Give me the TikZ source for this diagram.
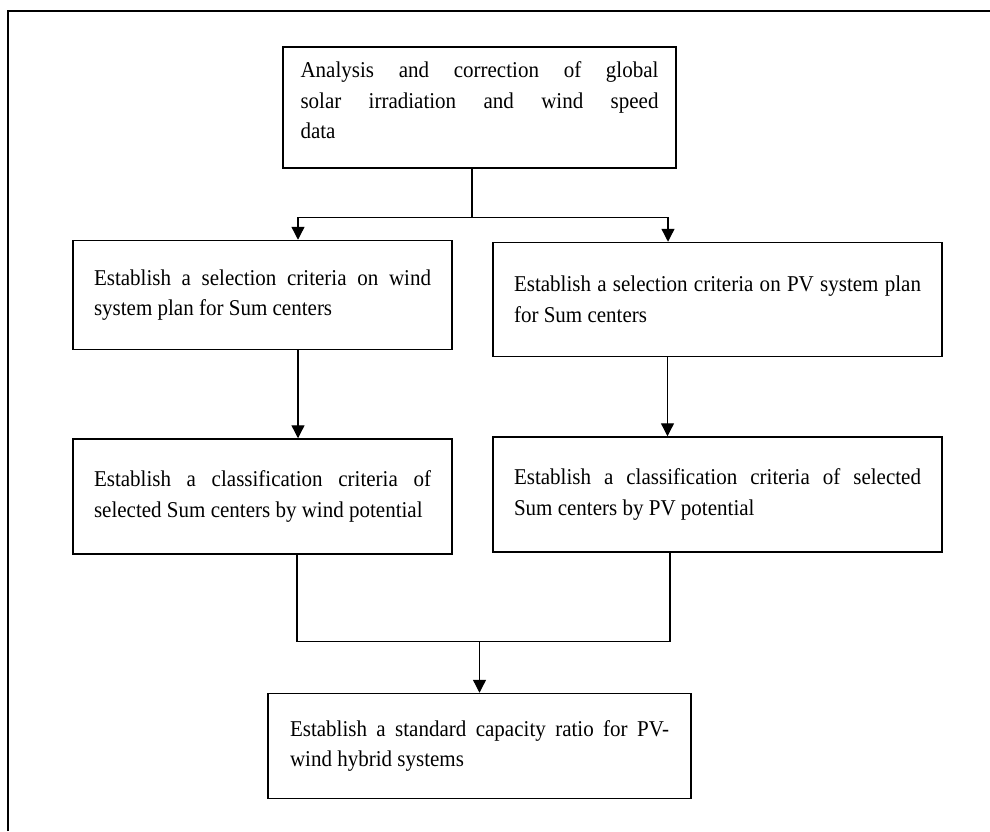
\documentclass[tikz,border=0pt]{standalone}
\usepackage{fontspec}
\setmainfont{Liberation Serif}
\newfontfamily\stagefamily[FakeStretch=0.93]{Liberation Serif}
\usetikzlibrary{positioning,arrows.meta,calc}
\newcommand{\stagefont}{\stagefamily\fontsize{22.6}{30.5}\selectfont\tolerance=10000 \hyphenpenalty=10000\relax}

\begin{document}
\begin{tikzpicture}[x=1pt,y=1pt,
  stage/.style={draw,line width=1.5pt,font=\stagefont,align=justify,inner xsep=0pt,inner ysep=0pt},
  ln/.style={line width=1.3pt},
  ar/.style={ln,-{Triangle[length=13pt,width=13pt]}}]
\useasboundingbox (0,0) rectangle (990,-831);
% ---- outer frame ----
\coordinate (fbl) at (8,-831);
\coordinate (ftr) at (990,-11);
\draw[line width=1.4pt] (fbl) |- (ftr);
% ---- data analysis ----
\node[stage,text width=358pt,minimum width=393pt,minimum height=121pt] (A) at (479.5,-107.5)
 {Analysis and correction of global\linebreak solar irradiation and wind speed\linebreak data\par\kern14pt};
% ---- selection criteria ----
\node[stage,text width=337pt,minimum width=379pt,minimum height=109pt,below=71pt of A,xshift=-217pt] (B1)
 {Establish a selection criteria on wind\linebreak system plan for Sum centers};
\node[stage,text width=407pt,minimum width=449pt,minimum height=114pt,below=73pt of A,xshift=238pt] (B2)
 {Establish a selection criteria on PV system plan\linebreak for Sum centers};
% ---- classification criteria ----
\node[stage,text width=337pt,minimum width=379pt,minimum height=115pt,below=88pt of B1] (C1)
 {Establish a classification criteria of\linebreak selected Sum centers by wind potential};
\node[stage,text width=407pt,minimum width=449pt,minimum height=115pt,below=79pt of B2] (C2)
 {Establish a classification criteria of selected\linebreak Sum centers by PV potential};
% ---- capacity ratio ----
\node[stage,text width=379pt,minimum width=423pt,minimum height=105pt,below=138pt of C1,xshift=217pt] (D)
 {Establish a standard capacity ratio for PV-\linebreak wind hybrid systems};
% ---- connectors ----
\coordinate (split) at ([xshift=-7.5pt,yshift=-49pt]A.south);
\coordinate (b1top) at ([xshift=35.5pt]B1.north);
\coordinate (b2top) at ([xshift=-49.5pt]B2.north);
\coordinate (join) at ([yshift=-87pt]C1.south -| D.north);
\draw[ln] ([xshift=-7.5pt]A.south) -- (split);
\draw[ar] (split) -| (b1top);
\draw[ar] (split) -| (b2top);
\draw[ar] ([xshift=35.5pt]B1.south) -- ([xshift=35.5pt]C1.north);
\draw[ar] ([xshift=-50pt]B2.south) -- ([xshift=-50pt]C2.north);
\draw[ln] ([xshift=34.5pt]C1.south) |- (join) -| ([xshift=-47.5pt]C2.south);
\draw[ar] (join) -- (D.north);
\end{tikzpicture}
\end{document}
